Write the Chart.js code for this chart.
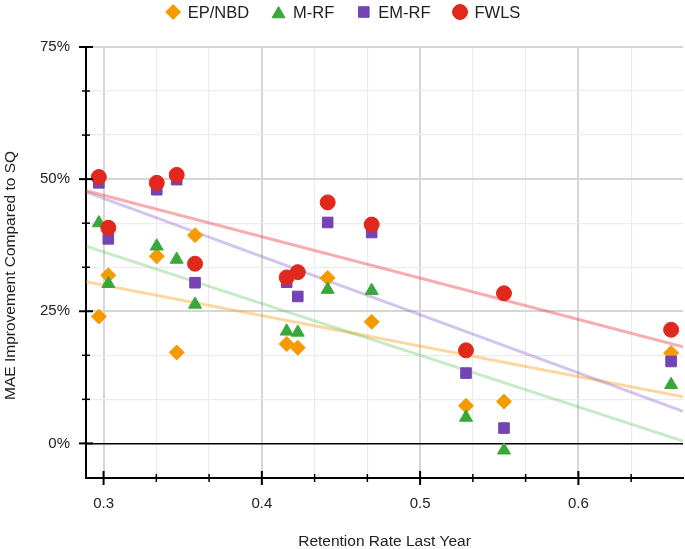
<!DOCTYPE html>
<html>
<head>
<meta charset="utf-8">
<script src="https://cdn.jsdelivr.net/npm/chart.js@4.4.1/dist/chart.umd.min.js"></script>
<style>
  html, body { margin: 0; padding: 0; background: #fff; }
  #wrap { width: 685px; height: 549px; }
</style>
</head>
<body>
<div id="wrap"><canvas id="maeChart"></canvas></div>
<script>
// Retention rate of each company (x) and MAE improvement in % (y)
const retention = [0.297, 0.303, 0.3336, 0.3462, 0.3578, 0.4157, 0.4227, 0.4416, 0.4694, 0.529, 0.553, 0.6586];
const epNbd = [24.0, 31.8, 35.4, 17.2, 39.4, 18.8, 18.1, 31.3, 23.0, 7.1, 7.9, 17.1];
const mRf   = [41.7, 30.2, 37.3, 34.8, 26.3, 21.2, 21.0, 29.1, 28.9, 4.9, -1.3, 11.1];
const emRf  = [49.3, 38.7, 48.0, 49.9, 30.4, 30.5, 27.8, 41.8, 39.9, 13.3, 2.9, 15.5];
const fwls  = [50.4, 40.8, 49.3, 50.8, 34.0, 31.4, 32.4, 45.6, 41.4, 17.6, 28.4, 21.5];

const xTickLabels = [0.3, 0.4, 0.5, 0.6];
const yTickLabels = [0, 25, 50, 75];

const xMin = 0.2889, xMax = 0.6661;
const yMin = -6.55, yMax = 75;

const FONT = '"Liberation Sans", Arial, sans-serif';
const TEXT = '#222';

// least squares line over the whole x range
function fitLine(xs, ys) {
    const n = xs.length;
    const mx = xs.reduce((a, b) => a + b, 0) / n;
    const my = ys.reduce((a, b) => a + b, 0) / n;
    let sxy = 0, sxx = 0;
    for (let i = 0; i < n; i++) {
        sxy += (xs[i] - mx) * (ys[i] - my);
        sxx += (xs[i] - mx) * (xs[i] - mx);
    }
    const slope = sxy / sxx;
    return [xMin, xMax].map(x => ({ x: x, y: my + slope * (x - mx) }));
}

function toPoints(ys) {
    return ys.map((y, i) => ({ x: retention[i], y: y }));
}

// majors plus two minor ticks between each pair
function buildTicks(majors, min, max) {
    const step = (majors[1] - majors[0]) / 3;
    const out = [];
    for (let k = -3; k <= majors.length * 3 + 3; k++) {
        const v = majors[0] + k * step;
        if (v < min - 1e-9 || v > max + 1e-9) continue;
        out.push({ value: v, isMajor: k % 3 === 0 });
    }
    return out;
}

const series = [
    { label: 'EP/NBD', data: epNbd, color: '#f59b00', trend: 'rgba(250,160,30,0.42)', style: 'rectRot', order: 4 },
    { label: 'M-RF',   data: mRf,   color: '#39a83a', trend: 'rgba(70,190,70,0.3)',   style: 'triangle', order: 3 },
    { label: 'EM-RF',  data: emRf,  color: '#7444b4', trend: 'rgba(130,90,200,0.35)', style: 'rect', order: 2 },
    { label: 'FWLS',   data: fwls,  color: '#e0281c', trend: 'rgba(236,60,60,0.42)',  style: 'circle', order: 1 }
];

const datasets = [];
series.forEach(s => {
    datasets.push({
        label: s.label,
        data: toPoints(s.data),
        inLegend: true,
        pointStyle: s.style,
        pointRadius: 7.5,
        pointHoverRadius: 7.5,
        backgroundColor: s.color,
        borderColor: s.color,
        pointBorderWidth: 1,
        showLine: false,
        order: s.order
    });
});
series.forEach(s => {
    datasets.push({
        label: s.label + ' trend',
        data: fitLine(retention, s.data),
        showLine: true,
        borderColor: s.trend,
        borderWidth: 3,
        pointRadius: 0,
        order: 10 + s.order
    });
});

// legend row across the top
const topLegend = {
    id: 'topLegend',
    afterDraw(chart) {
        const ctx = chart.ctx;
        const items = chart.data.datasets.filter(d => d.inLegend);
        ctx.save();
        ctx.font = '16.5px ' + FONT;
        ctx.textBaseline = 'middle';
        const widths = items.map(d => 15 + 7 + ctx.measureText(d.label).width);
        const total = widths.reduce((a, b) => a + b, 0) + 22 * (items.length - 1);
        let x = 343 - total / 2;
        const yMid = 12;
        items.forEach((d, i) => {
            ctx.fillStyle = d.backgroundColor;
            ctx.strokeStyle = d.borderColor;
            ctx.lineWidth = 1;
            const dy = d.pointStyle === 'triangle' ? 2 : 0;
            Chart.helpers.drawPoint(ctx, { pointStyle: d.pointStyle, radius: 7.5, borderWidth: 1, rotation: 0 }, x + 7.5, yMid + dy);
            ctx.fillStyle = TEXT;
            ctx.fillText(d.label, x + 22, yMid + 1);
            x += widths[i] + 22;
        });
        ctx.restore();
    }
};

// tick marks crossing both axis lines
const crossTicks = {
    id: 'crossTicks',
    afterDraw(chart) {
        const { ctx, scales: { x, y } } = chart;
        ctx.save();
        ctx.strokeStyle = '#000';
        x.ticks.forEach(t => {
            const px = x.getPixelForValue(t.value);
            const len = t.isMajor ? 7 : 4;
            ctx.lineWidth = t.isMajor ? 2 : 1.5;
            ctx.beginPath();
            ctx.moveTo(px, x.top - len);
            ctx.lineTo(px, x.top + len);
            ctx.stroke();
        });
        y.ticks.forEach(t => {
            const py = y.getPixelForValue(t.value);
            const len = t.isMajor ? 7 : 4;
            ctx.lineWidth = t.isMajor ? 2 : 1.5;
            ctx.beginPath();
            ctx.moveTo(y.right - len, py);
            ctx.lineTo(y.right + len, py);
            ctx.stroke();
        });
        ctx.restore();
    }
};

function gridColor(c) {
    if (!c.tick) return 'rgba(0,0,0,0)';
    if (c.scale.axis === 'y' && Math.abs(c.tick.value) < 1e-9) return '#000';
    return c.tick.isMajor ? '#d6d6d6' : '#ececec';
}
function gridWidth(c) {
    if (!c.tick) return 0;
    if (c.scale.axis === 'y' && Math.abs(c.tick.value) < 1e-9) return 1.5;
    return c.tick.isMajor ? 2 : 1.2;
}

new Chart(document.getElementById('maeChart'), {
    type: 'scatter',
    data: { datasets: datasets },
    options: {
        responsive: true,
        maintainAspectRatio: false,
        animation: false,
        layout: { autoPadding: false, padding: { top: 47, left: 0, right: 2, bottom: 0 } },
        plugins: {
            legend: { display: false },
            tooltip: { enabled: false }
        },
        scales: {
            x: {
                type: 'linear',
                min: xMin,
                max: xMax,
                afterBuildTicks: s => { s.ticks = buildTicks(xTickLabels, xMin, xMax); },
                afterFit: s => { s.height = 71; },
                ticks: {
                    autoSkip: false,
                    maxRotation: 0,
                    padding: 17,
                    color: TEXT,
                    font: { family: FONT, size: 15 },
                    callback: v => xTickLabels.some(m => Math.abs(m - v) < 1e-6) ? v.toFixed(1) : ''
                },
                grid: { drawTicks: false, color: gridColor, lineWidth: gridWidth },
                border: { color: '#000', width: 2 },
                title: {
                    display: true,
                    text: 'Retention Rate Last Year',
                    color: TEXT,
                    font: { family: FONT, size: 15.5 },
                    padding: { top: 0, bottom: -2 }
                }
            },
            y: {
                type: 'linear',
                min: yMin,
                max: yMax,
                afterBuildTicks: s => { s.ticks = buildTicks(yTickLabels, yMin, yMax); },
                afterFit: s => { s.width = 86; },
                ticks: {
                    autoSkip: false,
                    padding: 16,
                    color: TEXT,
                    font: { family: FONT, size: 15 },
                    callback: v => yTickLabels.some(m => Math.abs(m - v) < 1e-6) ? Math.round(v) + '%' : ''
                },
                grid: { drawTicks: false, color: gridColor, lineWidth: gridWidth },
                border: { color: '#000', width: 2 },
                title: {
                    display: true,
                    text: 'MAE Improvement Compared to SQ      ',
                    color: TEXT,
                    font: { family: FONT, size: 15.5 },
                    padding: { top: 1, bottom: 0 }
                }
            }
        }
    },
    plugins: [topLegend, crossTicks]
});
</script>
</body>
</html>
